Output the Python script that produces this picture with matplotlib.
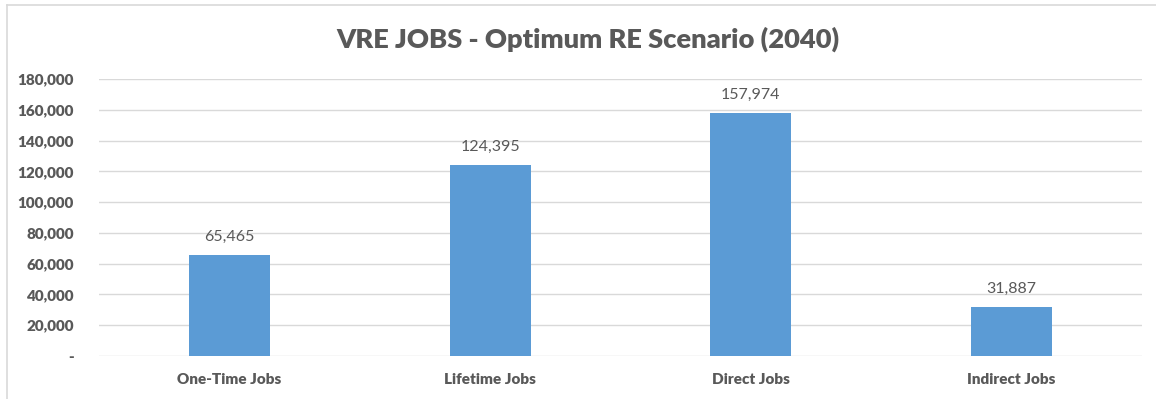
import matplotlib
matplotlib.use('Agg')
import matplotlib.pyplot as plt
from matplotlib.lines import Line2D
from matplotlib.ticker import FuncFormatter

# Job totals by type
categories = ['One-Time Jobs', 'Lifetime Jobs', 'Direct Jobs', 'Indirect Jobs']
jobs = [65465, 124395, 157974, 31887]
y_ticks = [0, 20000, 40000, 60000, 80000, 100000, 120000, 140000, 160000, 180000]

bar_color = '#5B9BD5'
text_color = '#595959'
grid_color = '#D9D9D9'

plt.rcParams['font.family'] = ['Lato', 'DejaVu Sans']

fig = plt.figure(figsize=(11.56, 3.99), dpi=100)
ax = fig.add_axes([99 / 1156, 1 - 356 / 399, 1043 / 1156, 277 / 399])

x = range(len(categories))
bars = ax.bar(x, jobs, width=0.31, color=bar_color, zorder=3)

ax.set_xlim(-0.5, len(categories) - 0.5)
ax.set_ylim(0, 180000)
ax.set_yticks(y_ticks)
ax.yaxis.set_major_formatter(FuncFormatter(lambda v, p: '-' if v == 0 else f'{int(v):,}'))
ax.set_xticks(list(x))
ax.set_xticklabels(categories)

ax.grid(axis='y', color=grid_color, linewidth=1.0, zorder=0)
for s in ax.spines.values():
    s.set_visible(False)
ax.tick_params(axis='both', length=0, colors=text_color, labelsize=11)
ax.tick_params(axis='y', pad=18)
ax.tick_params(axis='x', pad=12)
for lbl in ax.get_xticklabels() + ax.get_yticklabels():
    lbl.set_fontweight('heavy')
    lbl.set_color(text_color)

for b, v in zip(bars, jobs):
    ax.annotate(f'{v:,}', (b.get_x() + b.get_width() / 2, v),
                xytext=(0, 8), textcoords='offset points',
                ha='center', va='bottom', fontsize=11.5, color=text_color)

fig.text(588 / 1156, 1 - 39 / 399, 'VRE JOBS - Optimum RE Scenario (2040)',
         ha='center', va='center', fontsize=19.6, fontweight='heavy', color=text_color)

# chart frame
fig.add_artist(Line2D([7 / 1156, 7 / 1156], [0, 1 - 5 / 399], color=grid_color, linewidth=1.2))
fig.add_artist(Line2D([7 / 1156, 1], [1 - 5 / 399, 1 - 5 / 399], color=grid_color, linewidth=1.2))

fig.savefig('out.png', dpi=100)
